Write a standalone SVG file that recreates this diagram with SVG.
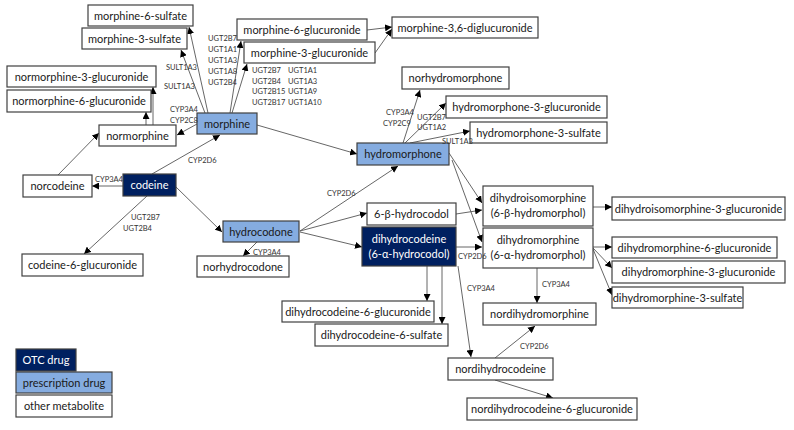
<svg xmlns="http://www.w3.org/2000/svg" width="794" height="430" viewBox="0 0 794 430">
<defs>
<marker id="ah" viewBox="0 0 10 10" refX="10" refY="5" markerWidth="7" markerHeight="7" markerUnits="userSpaceOnUse" orient="auto">
<path d="M0,0 L10,5 L0,10 z" fill="#000"/>
</marker>
<style>
.b rect{fill:#fff;stroke:#404040;stroke-width:1.2}
.p rect{fill:#85ace0;stroke:#404040;stroke-width:1.2}
.o rect{fill:#002060;stroke:#404040;stroke-width:1.2}
text{font-family:Lato,"Open Sans","Liberation Sans",sans-serif}
.b text,.p text{font-size:11px;fill:#1a1a1a;text-anchor:middle}
.o text{font-size:11px;fill:#fff;text-anchor:middle}
.e{font-size:7.5px;fill:#333}
#conn line{stroke:#555;stroke-width:0.9;marker-end:url(#ah)}
</style>
</defs>
<rect width="794" height="430" fill="#fff"/>
<g id="conn">
<line x1="208" y1="113" x2="189" y2="27"/>
<line x1="205" y1="113" x2="181" y2="50"/>
<line x1="230" y1="113" x2="241" y2="41"/>
<line x1="232" y1="113" x2="247" y2="64"/>
<line x1="197" y1="124" x2="177" y2="135"/>
<line x1="146" y1="125" x2="146" y2="112"/>
<line x1="153" y1="125" x2="153" y2="87"/>
<line x1="58" y1="175" x2="99" y2="133"/>
<line x1="152" y1="174" x2="220" y2="135"/>
<line x1="123" y1="186" x2="92" y2="186"/>
<line x1="147" y1="196" x2="84" y2="254"/>
<line x1="176" y1="187" x2="222" y2="232"/>
<line x1="257" y1="242" x2="243" y2="256"/>
<line x1="257" y1="125" x2="357" y2="154"/>
<line x1="300" y1="231" x2="398" y2="166"/>
<line x1="300" y1="231" x2="367" y2="213"/>
<line x1="300" y1="232" x2="362" y2="247"/>
<line x1="403" y1="143" x2="420" y2="90"/>
<line x1="405" y1="143" x2="446" y2="103"/>
<line x1="410" y1="143" x2="470" y2="131"/>
<line x1="449" y1="153" x2="482" y2="203"/>
<line x1="452" y1="160" x2="482" y2="242"/>
<line x1="456" y1="214" x2="482" y2="210"/>
<line x1="456" y1="247" x2="482" y2="247"/>
<line x1="427" y1="266" x2="427" y2="301"/>
<line x1="442" y1="266" x2="442" y2="324"/>
<line x1="458" y1="266" x2="471" y2="357"/>
<line x1="537" y1="268" x2="537" y2="303"/>
<line x1="495" y1="358" x2="535" y2="326"/>
<line x1="495" y1="380" x2="553" y2="398"/>
<line x1="593" y1="207" x2="612" y2="207"/>
<line x1="593" y1="247" x2="612" y2="247"/>
<line x1="593" y1="248" x2="612" y2="268"/>
<line x1="593" y1="249" x2="612" y2="295"/>
<line x1="367" y1="30" x2="392" y2="27"/>
<line x1="375" y1="53" x2="392" y2="29"/>
</g>
<g id="morphine-6-sulfate" class="b"><rect x="88" y="5" width="105" height="21"/><text x="140.5" y="19.5">morphine-6-sulfate</text></g>
<g id="morphine-3-sulfate" class="b"><rect x="82" y="28" width="105" height="21"/><text x="134.5" y="42.5">morphine-3-sulfate</text></g>
<g id="normorphine-3-glucuronide" class="b"><rect x="7" y="66" width="149" height="21"/><text x="81.5" y="80.5">normorphine-3-glucuronide</text></g>
<g id="normorphine-6-glucuronide" class="b"><rect x="7" y="90" width="144" height="22"/><text x="79" y="105">normorphine-6-glucuronide</text></g>
<g id="normorphine" class="b"><rect x="99" y="125" width="77" height="21"/><text x="137.5" y="139.5">normorphine</text></g>
<g id="morphine" class="p"><rect x="197" y="113" width="60" height="21"/><text x="227" y="127.5">morphine</text></g>
<g id="morphine-6-glucuronide" class="b"><rect x="237" y="19" width="130" height="21"/><text x="302" y="33.5">morphine-6-glucuronide</text></g>
<g id="morphine-3-glucuronide" class="b"><rect x="244" y="42" width="131" height="21"/><text x="309.5" y="56.5">morphine-3-glucuronide</text></g>
<g id="morphine-3-6-diglucuronide" class="b"><rect x="392" y="17" width="146" height="21"/><text x="465" y="31.5">morphine-3,6-diglucuronide</text></g>
<g id="norcodeine" class="b"><rect x="23" y="175" width="69" height="22"/><text x="57.5" y="190">norcodeine</text></g>
<g id="codeine" class="o"><rect x="123" y="174" width="53" height="22"/><text x="149.5" y="189">codeine</text></g>
<g id="codeine-6-glucuronide" class="b"><rect x="22" y="254" width="121" height="22"/><text x="82.5" y="269">codeine-6-glucuronide</text></g>
<g id="hydrocodone" class="p"><rect x="223" y="221" width="76" height="21"/><text x="261" y="235.5">hydrocodone</text></g>
<g id="norhydrocodone" class="b"><rect x="197" y="256" width="92" height="21"/><text x="243" y="270.5">norhydrocodone</text></g>
<g id="norhydromorphone" class="b"><rect x="402" y="67" width="107" height="22"/><text x="455.5" y="82">norhydromorphone</text></g>
<g id="hydromorphone-3-glucuronide" class="b"><rect x="446" y="96" width="161" height="22"/><text x="526.5" y="111">hydromorphone-3-glucuronide</text></g>
<g id="hydromorphone-3-sulfate" class="b"><rect x="470" y="122" width="137" height="21"/><text x="538.5" y="136.5">hydromorphone-3-sulfate</text></g>
<g id="hydromorphone" class="p"><rect x="357" y="143" width="92" height="22"/><text x="403" y="158">hydromorphone</text></g>
<g id="beta-hydrocodol" class="b"><rect x="367" y="203" width="89" height="22"/><text x="411.5" y="218">6-β-hydrocodol</text></g>
<g id="dihydrocodeine" class="o"><rect x="362" y="227" width="94" height="39"/><text x="409" y="243">dihydrocodeine</text><text x="409" y="258">(6-α-hydrocodol)</text></g>
<g id="dihydroisomorphine" class="b"><rect x="483" y="186" width="110" height="40"/><text x="538" y="202">dihydroisomorphine</text><text x="538" y="217">(6-β-hydromorphol)</text></g>
<g id="dihydromorphine" class="b"><rect x="483" y="228" width="110" height="40"/><text x="538" y="244">dihydromorphine</text><text x="538" y="259">(6-α-hydromorphol)</text></g>
<g id="dihydroisomorphine-3-glucuronide" class="b"><rect x="612" y="197" width="173" height="23"/><text x="698.5" y="212.5">dihydroisomorphine-3-glucuronide</text></g>
<g id="dihydromorphine-6-glucuronide" class="b"><rect x="612" y="237" width="165" height="21"/><text x="694.5" y="251.5">dihydromorphine-6-glucuronide</text></g>
<g id="dihydromorphine-3-glucuronide" class="b"><rect x="612" y="261" width="173" height="22"/><text x="698.5" y="276">dihydromorphine-3-glucuronide</text></g>
<g id="dihydromorphine-3-sulfate" class="b"><rect x="612" y="287" width="131" height="21"/><text x="677.5" y="301.5">dihydromorphine-3-sulfate</text></g>
<g id="dihydrocodeine-6-glucuronide" class="b"><rect x="282" y="301" width="152" height="21"/><text x="358" y="315.5">dihydrocodeine-6-glucuronide</text></g>
<g id="dihydrocodeine-6-sulfate" class="b"><rect x="315" y="324" width="133" height="22"/><text x="381.5" y="339">dihydrocodeine-6-sulfate</text></g>
<g id="nordihydromorphine" class="b"><rect x="483" y="303" width="113" height="22"/><text x="539.5" y="318">nordihydromorphine</text></g>
<g id="nordihydrocodeine" class="b"><rect x="448" y="358" width="105" height="22"/><text x="500.5" y="373">nordihydrocodeine</text></g>
<g id="nordihydrocodeine-6-glucuronide" class="b"><rect x="467" y="398" width="170" height="22"/><text x="552" y="413">nordihydrocodeine-6-glucuronide</text></g>
<g id="legend-otc" class="o"><rect x="16" y="349" width="60" height="22"/><text x="46" y="364">OTC drug</text></g>
<g id="legend-prescription" class="p"><rect x="16" y="372" width="96" height="21"/><text x="64" y="386.5">prescription drug</text></g>
<g id="legend-other" class="b"><rect x="16" y="395" width="96" height="22"/><text x="64" y="410">other metabolite</text></g>
<g id="labels">
<text class="e" x="166" y="69.5">SULT1A3</text>
<text class="e" x="164" y="88.5">SULT1A3</text>
<text class="e" x="208" y="40.5">UGT2B7</text>
<text class="e" x="208" y="51.5">UGT1A1</text>
<text class="e" x="208" y="62.5">UGT1A3</text>
<text class="e" x="208" y="73.5">UGT1A8</text>
<text class="e" x="208" y="84.5">UGT2B4</text>
<text class="e" x="252" y="72.5">UGT2B7</text>
<text class="e" x="252" y="83.5">UGT2B4</text>
<text class="e" x="252" y="93.5">UGT2B15</text>
<text class="e" x="252" y="104.5">UGT2B17</text>
<text class="e" x="288" y="72.5">UGT1A1</text>
<text class="e" x="288" y="83.5">UGT1A3</text>
<text class="e" x="288" y="93.5">UGT1A9</text>
<text class="e" x="288" y="104.5">UGT1A10</text>
<text class="e" x="170" y="112">CYP3A4</text>
<text class="e" x="170" y="123">CYP2C8</text>
<text class="e" x="188" y="162.5">CYP2D6</text>
<text class="e" x="95" y="181.5">CYP3A4</text>
<text class="e" x="131" y="219.5">UGT2B7</text>
<text class="e" x="123" y="230.5">UGT2B4</text>
<text class="e" x="253" y="254.5">CYP3A4</text>
<text class="e" x="327" y="196">CYP2D6</text>
<text class="e" x="386" y="114.5">CYP3A4</text>
<text class="e" x="383" y="125.5">CYP2C9</text>
<text class="e" x="417" y="119.5">UGT2B7</text>
<text class="e" x="417" y="129.5">UGT1A2</text>
<text class="e" x="442" y="143.5">SULT1A3</text>
<text class="e" x="458" y="258.5">CYP2D6</text>
<text class="e" x="467" y="290.5">CYP3A4</text>
<text class="e" x="542" y="286.5">CYP3A4</text>
<text class="e" x="520" y="348.5">CYP2D6</text>
</g>
</svg>
